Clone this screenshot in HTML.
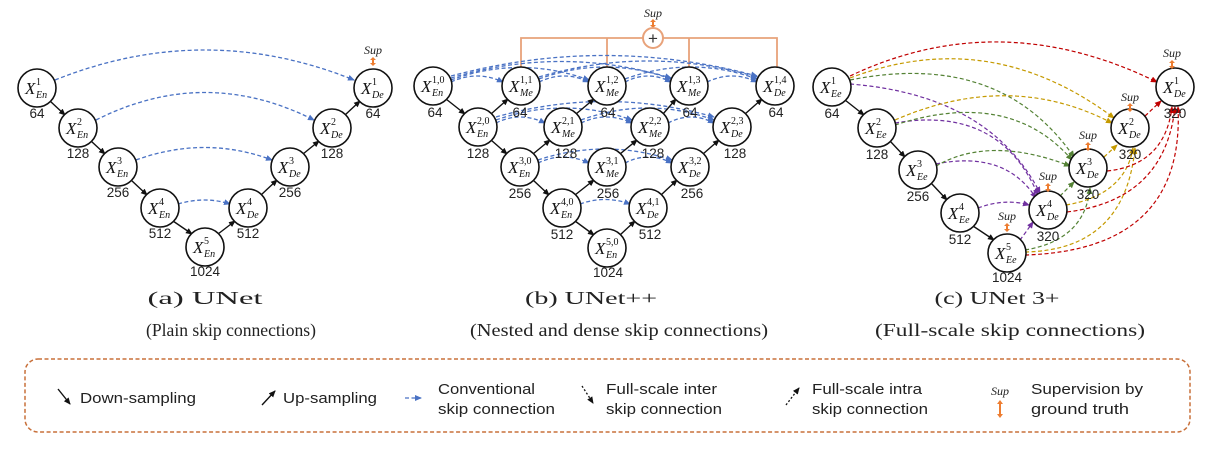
<!DOCTYPE html>
<html><head><meta charset="utf-8"><style>
html,body{margin:0;padding:0;background:#fff;}
svg{display:block;}
.n{fill:#fff;stroke:#111;stroke-width:1.6;}
.X{font-family:"Liberation Serif",serif;font-style:italic;font-size:17px;fill:#111;}
.s{font-family:"Liberation Serif",serif;font-size:10px;fill:#111;}
.b{font-family:"Liberation Serif",serif;font-style:italic;font-size:10px;fill:#111;}
.num{font-family:"Liberation Sans",sans-serif;font-size:13.5px;fill:#222;text-anchor:middle;}
.cap{font-family:"Liberation Serif",serif;font-size:18px;fill:#222;text-anchor:middle;}
.sup{font-family:"Liberation Serif",serif;font-style:italic;font-size:12px;fill:#222;text-anchor:middle;}
.ar{stroke:#111;stroke-width:1.4;fill:none;marker-end:url(#mk);}
.bl{stroke:#4a72c4;stroke-width:1.3;fill:none;stroke-dasharray:4 2.5;marker-end:url(#mb);}
.pu{stroke:#7030a0;stroke-width:1.2;fill:none;stroke-dasharray:4 2.5;marker-end:url(#mp);}
.gr{stroke:#548235;stroke-width:1.2;fill:none;stroke-dasharray:4 2.5;marker-end:url(#mg);}
.go{stroke:#c59a00;stroke-width:1.2;fill:none;stroke-dasharray:4 2.5;marker-end:url(#my);}
.rd{stroke:#c00000;stroke-width:1.2;fill:none;stroke-dasharray:4 2.5;marker-end:url(#mr);}
.or{stroke:#e8a27a;stroke-width:1.8;fill:none;}
.lg{font-family:"Liberation Sans Narrow","Liberation Sans",sans-serif;font-size:15px;fill:#222;}
</style></head><body>
<svg width="1210" height="450" viewBox="0 0 1210 450" xmlns="http://www.w3.org/2000/svg">
<defs>
<marker id="mk" markerWidth="8" markerHeight="8" refX="6" refY="3" orient="auto" markerUnits="userSpaceOnUse"><path d="M0,0 L7,3 L0,6z" fill="#111"/></marker>
<marker id="mb" markerWidth="8" markerHeight="8" refX="6" refY="3" orient="auto" markerUnits="userSpaceOnUse"><path d="M0,0 L7,3 L0,6z" fill="#4a72c4"/></marker>
<marker id="mp" markerWidth="8" markerHeight="8" refX="6" refY="3" orient="auto" markerUnits="userSpaceOnUse"><path d="M0,0 L7,3 L0,6z" fill="#7030a0"/></marker>
<marker id="mg" markerWidth="8" markerHeight="8" refX="6" refY="3" orient="auto" markerUnits="userSpaceOnUse"><path d="M0,0 L7,3 L0,6z" fill="#548235"/></marker>
<marker id="my" markerWidth="8" markerHeight="8" refX="6" refY="3" orient="auto" markerUnits="userSpaceOnUse"><path d="M0,0 L7,3 L0,6z" fill="#c59a00"/></marker>
<marker id="mr" markerWidth="8" markerHeight="8" refX="6" refY="3" orient="auto" markerUnits="userSpaceOnUse"><path d="M0,0 L7,3 L0,6z" fill="#c00000"/></marker>
</defs>

<!-- ===== (a) UNet ===== -->
<path class="bl" d="M55,80 Q205,20 354,80"/>
<path class="bl" d="M96,120 Q205,65 314,120"/>
<path class="bl" d="M136,160 Q205,135 272,160"/>
<path class="bl" d="M178,204 Q205,196 230,204"/>
<line class="ar" x1="50" y1="101" x2="65" y2="115"/>
<line class="ar" x1="91" y1="141" x2="105" y2="154"/>
<line class="ar" x1="131" y1="180" x2="147" y2="195"/>
<line class="ar" x1="173" y1="221" x2="192" y2="234"/>
<line class="ar" x1="218" y1="234" x2="235" y2="221"/>
<line class="ar" x1="261" y1="195" x2="277" y2="180"/>
<line class="ar" x1="303" y1="154" x2="319" y2="141"/>
<line class="ar" x1="345" y1="115" x2="360" y2="101"/>

<circle class="n" cx="37" cy="88" r="19"/><text class="X" x="25" y="94">X</text><text class="s" x="36" y="85">1</text><text class="b" x="36" y="98">En</text>
<circle class="n" cx="78" cy="128" r="19"/><text class="X" x="66" y="134">X</text><text class="s" x="77" y="125">2</text><text class="b" x="77" y="138">En</text>
<circle class="n" cx="118" cy="167" r="19"/><text class="X" x="106" y="173">X</text><text class="s" x="117" y="164">3</text><text class="b" x="117" y="177">En</text>
<circle class="n" cx="160" cy="208" r="19"/><text class="X" x="148" y="214">X</text><text class="s" x="159" y="205">4</text><text class="b" x="159" y="218">En</text>
<circle class="n" cx="205" cy="247" r="19"/><text class="X" x="193" y="253">X</text><text class="s" x="204" y="244">5</text><text class="b" x="204" y="257">En</text>
<circle class="n" cx="248" cy="208" r="19"/><text class="X" x="236" y="214">X</text><text class="s" x="247" y="205">4</text><text class="b" x="247" y="218">De</text>
<circle class="n" cx="290" cy="167" r="19"/><text class="X" x="278" y="173">X</text><text class="s" x="289" y="164">3</text><text class="b" x="289" y="177">De</text>
<circle class="n" cx="332" cy="128" r="19"/><text class="X" x="320" y="134">X</text><text class="s" x="331" y="125">2</text><text class="b" x="331" y="138">De</text>
<circle class="n" cx="373" cy="88" r="19"/><text class="X" x="361" y="94">X</text><text class="s" x="372" y="85">1</text><text class="b" x="372" y="98">De</text>
<text class="num" x="37" y="118">64</text><text class="num" x="78" y="158">128</text><text class="num" x="118" y="197">256</text><text class="num" x="160" y="238">512</text><text class="num" x="205" y="276">1024</text>
<text class="num" x="248" y="238">512</text><text class="num" x="290" y="197">256</text><text class="num" x="332" y="158">128</text><text class="num" x="373" y="118">64</text>
<text class="sup" x="373" y="54">Sup</text>
<path d="M373,57 l-3,3 h2 v3 h-2 l3,3 l3,-3 h-2 v-3 h2z" fill="#ed7d31"/>
<text class="cap" x="205" y="304" textLength="115" lengthAdjust="spacingAndGlyphs">(a)  UNet</text>
<text class="cap" x="231" y="336" textLength="170" lengthAdjust="spacingAndGlyphs">(Plain skip connections)</text>

<!-- ===== (b) UNet++ ===== -->
<text class="sup" x="653" y="17">Sup</text>
<path d="M653,19 l-3,3 h2 v3 h-2 l3,3 l3,-3 h-2 v-3 h2z" fill="#ed7d31"/>
<polyline class="or" points="521,67 521,38 777,38 777,69"/>
<line class="or" x1="607" y1="38" x2="607" y2="67"/>
<line class="or" x1="689" y1="38" x2="689" y2="67"/>
<circle cx="653" cy="38" r="10" fill="#fff" stroke="#e8a27a" stroke-width="2"/>
<text x="653" y="44" text-anchor="middle" font-family="Liberation Sans,sans-serif" font-size="17" fill="#333">+</text>
<path class="bl" d="M451,82 Q477,70 503,82"/>
<path class="bl" d="M451,80 Q520,55 589,80"/>
<path class="bl" d="M451,78 Q561,45 671,78"/>
<path class="bl" d="M451,76 Q604,35 757,76"/>
<path class="bl" d="M539,82 Q564,70 589,82"/>
<path class="bl" d="M539,79 Q605,55 671,79"/>
<path class="bl" d="M539,77 Q648,45 757,77"/>
<path class="bl" d="M625,82 Q648,70 671,82"/>
<path class="bl" d="M625,79 Q691,55 757,79"/>
<path class="bl" d="M707,82 Q732,70 757,82"/>
<path class="bl" d="M496,123 Q520,111 545,123"/>
<path class="bl" d="M496,120 Q564,96 632,120"/>
<path class="bl" d="M496,117 Q605,86 714,117"/>
<path class="bl" d="M581,123 Q606,111 632,123"/>
<path class="bl" d="M581,120 Q648,96 714,120"/>
<path class="bl" d="M668,123 Q691,111 714,123"/>
<path class="bl" d="M538,163 Q563,151 589,163"/>
<path class="bl" d="M538,160 Q605,138 672,160"/>
<path class="bl" d="M625,163 Q648,151 672,163"/>
<path class="bl" d="M580,204 Q605,195 630,204"/>
<line class="ar" x1="446" y1="99" x2="465" y2="114"/>
<line class="ar" x1="491" y1="140" x2="507" y2="154"/>
<line class="ar" x1="533" y1="180" x2="549" y2="195"/>
<line class="ar" x1="575" y1="221" x2="594" y2="235"/>
<line class="ar" x1="491" y1="114" x2="508" y2="99"/>
<line class="ar" x1="533" y1="154" x2="550" y2="140"/>
<line class="ar" x1="575" y1="195" x2="594" y2="180"/>
<line class="ar" x1="620" y1="235" x2="635" y2="221"/>
<line class="ar" x1="661" y1="195" x2="677" y2="180"/>
<line class="ar" x1="703" y1="154" x2="719" y2="140"/>
<line class="ar" x1="745" y1="114" x2="762" y2="99"/>
<line class="ar" x1="576" y1="114" x2="594" y2="99"/>
<line class="ar" x1="620" y1="154" x2="637" y2="140"/>
<line class="ar" x1="663" y1="114" x2="676" y2="99"/>

<circle class="n" cx="433" cy="86" r="19"/><text class="X" x="421" y="92">X</text><text class="s" x="432" y="83">1,0</text><text class="b" x="432" y="96">En</text>
<circle class="n" cx="521" cy="86" r="19"/><text class="X" x="509" y="92">X</text><text class="s" x="520" y="83">1,1</text><text class="b" x="520" y="96">Me</text>
<circle class="n" cx="607" cy="86" r="19"/><text class="X" x="595" y="92">X</text><text class="s" x="606" y="83">1,2</text><text class="b" x="606" y="96">Me</text>
<circle class="n" cx="689" cy="86" r="19"/><text class="X" x="677" y="92">X</text><text class="s" x="688" y="83">1,3</text><text class="b" x="688" y="96">Me</text>
<circle class="n" cx="775" cy="86" r="19"/><text class="X" x="763" y="92">X</text><text class="s" x="774" y="83">1,4</text><text class="b" x="774" y="96">De</text>
<circle class="n" cx="478" cy="127" r="19"/><text class="X" x="466" y="133">X</text><text class="s" x="477" y="124">2,0</text><text class="b" x="477" y="137">En</text>
<circle class="n" cx="563" cy="127" r="19"/><text class="X" x="551" y="133">X</text><text class="s" x="562" y="124">2,1</text><text class="b" x="562" y="137">Me</text>
<circle class="n" cx="650" cy="127" r="19"/><text class="X" x="638" y="133">X</text><text class="s" x="649" y="124">2,2</text><text class="b" x="649" y="137">Me</text>
<circle class="n" cx="732" cy="127" r="19"/><text class="X" x="720" y="133">X</text><text class="s" x="731" y="124">2,3</text><text class="b" x="731" y="137">De</text>
<circle class="n" cx="520" cy="167" r="19"/><text class="X" x="508" y="173">X</text><text class="s" x="519" y="164">3,0</text><text class="b" x="519" y="177">En</text>
<circle class="n" cx="607" cy="167" r="19"/><text class="X" x="595" y="173">X</text><text class="s" x="606" y="164">3,1</text><text class="b" x="606" y="177">Me</text>
<circle class="n" cx="690" cy="167" r="19"/><text class="X" x="678" y="173">X</text><text class="s" x="689" y="164">3,2</text><text class="b" x="689" y="177">De</text>
<circle class="n" cx="562" cy="208" r="19"/><text class="X" x="550" y="214">X</text><text class="s" x="561" y="205">4,0</text><text class="b" x="561" y="218">En</text>
<circle class="n" cx="648" cy="208" r="19"/><text class="X" x="636" y="214">X</text><text class="s" x="647" y="205">4,1</text><text class="b" x="647" y="218">De</text>
<circle class="n" cx="607" cy="248" r="19"/><text class="X" x="595" y="254">X</text><text class="s" x="606" y="245">5,0</text><text class="b" x="606" y="258">En</text>
<text class="num" x="435" y="117">64</text><text class="num" x="520" y="117">64</text><text class="num" x="608" y="117">64</text><text class="num" x="690" y="117">64</text><text class="num" x="776" y="117">64</text>
<text class="num" x="478" y="158">128</text><text class="num" x="566" y="158">128</text><text class="num" x="653" y="158">128</text><text class="num" x="735" y="158">128</text>
<text class="num" x="520" y="198">256</text><text class="num" x="608" y="198">256</text><text class="num" x="692" y="198">256</text>
<text class="num" x="562" y="239">512</text><text class="num" x="650" y="239">512</text>
<text class="num" x="608" y="277">1024</text>
<text class="cap" x="591" y="304" textLength="132" lengthAdjust="spacingAndGlyphs">(b)  UNet++</text>
<text class="cap" x="619" y="336" textLength="298" lengthAdjust="spacingAndGlyphs">(Nested and dense skip connections)</text>

<!-- ===== (c) UNet 3+ ===== -->
<path class="pu" d="M850,84 Q990,95 1040,193"/>
<path class="pu" d="M895,123 Q1000,105 1038,195"/>
<path class="pu" d="M936,164 Q1005,150 1036,198"/>
<path class="pu" d="M978,208 Q1005,198 1029,205"/>
<path class="pu" d="M1020,240 Q1026,232 1033,222"/>
<path class="gr" d="M850,80 Q1000,50 1074,157"/>
<path class="gr" d="M895,125 Q1010,88 1072,160"/>
<path class="gr" d="M936,166 Q990,135 1070,166"/>
<line class="gr" x1="1060" y1="196" x2="1074" y2="182"/>
<path class="gr" d="M1025,250 Q1085,240 1090,188"/>
<path class="go" d="M850,78 Q990,25 1114,118"/>
<path class="go" d="M895,120 Q1010,70 1112,123"/>
<line class="go" x1="1104" y1="157" x2="1117" y2="145"/>
<path class="go" d="M1066,205 Q1125,195 1133,148"/>
<path class="go" d="M1025,252 Q1125,250 1135,148"/>
<path class="rd" d="M850,76 Q1000,5 1157,82"/>
<line class="rd" x1="1145" y1="116" x2="1161" y2="101"/>
<path class="rd" d="M1107,171 Q1165,165 1172,107"/>
<path class="rd" d="M1067,212 Q1165,200 1175,107"/>
<path class="rd" d="M1025,255 Q1185,250 1178,107"/>
<line class="ar" x1="845" y1="100" x2="864" y2="115"/>
<line class="ar" x1="890" y1="141" x2="905" y2="157"/>
<line class="ar" x1="931" y1="183" x2="947" y2="200"/>
<line class="ar" x1="973" y1="226" x2="994" y2="240"/>

<circle class="n" cx="832" cy="87" r="19"/><text class="X" x="820" y="93">X</text><text class="s" x="831" y="84">1</text><text class="b" x="831" y="97">Ee</text>
<circle class="n" cx="877" cy="128" r="19"/><text class="X" x="865" y="134">X</text><text class="s" x="876" y="125">2</text><text class="b" x="876" y="138">Ee</text>
<circle class="n" cx="918" cy="170" r="19"/><text class="X" x="906" y="176">X</text><text class="s" x="917" y="167">3</text><text class="b" x="917" y="180">Ee</text>
<circle class="n" cx="960" cy="213" r="19"/><text class="X" x="948" y="219">X</text><text class="s" x="959" y="210">4</text><text class="b" x="959" y="223">Ee</text>
<circle class="n" cx="1007" cy="253" r="19"/><text class="X" x="995" y="259">X</text><text class="s" x="1006" y="250">5</text><text class="b" x="1006" y="263">Ee</text>
<circle class="n" cx="1048" cy="210" r="19"/><text class="X" x="1036" y="216">X</text><text class="s" x="1047" y="207">4</text><text class="b" x="1047" y="220">De</text>
<circle class="n" cx="1088" cy="168" r="19"/><text class="X" x="1076" y="174">X</text><text class="s" x="1087" y="165">3</text><text class="b" x="1087" y="178">De</text>
<circle class="n" cx="1130" cy="128" r="19"/><text class="X" x="1118" y="134">X</text><text class="s" x="1129" y="125">2</text><text class="b" x="1129" y="138">De</text>
<circle class="n" cx="1175" cy="87" r="19"/><text class="X" x="1163" y="93">X</text><text class="s" x="1174" y="84">1</text><text class="b" x="1174" y="97">De</text>
<text class="num" x="832" y="118">64</text><text class="num" x="877" y="159">128</text><text class="num" x="918" y="201">256</text><text class="num" x="960" y="244">512</text><text class="num" x="1007" y="282">1024</text>
<text class="num" x="1048" y="241">320</text><text class="num" x="1088" y="199">320</text><text class="num" x="1130" y="159">320</text><text class="num" x="1175" y="118">320</text>
<text class="sup" x="1172" y="57">Sup</text><path d="M1172,60 l-3,3 h2 v3 h-2 l3,3 l3,-3 h-2 v-3 h2z" fill="#ed7d31"/>
<text class="sup" x="1130" y="101">Sup</text><path d="M1130,103 l-3,3 h2 v3 h-2 l3,3 l3,-3 h-2 v-3 h2z" fill="#ed7d31"/>
<text class="sup" x="1088" y="139">Sup</text><path d="M1088,142 l-3,3 h2 v3 h-2 l3,3 l3,-3 h-2 v-3 h2z" fill="#ed7d31"/>
<text class="sup" x="1048" y="180">Sup</text><path d="M1048,183 l-3,3 h2 v3 h-2 l3,3 l3,-3 h-2 v-3 h2z" fill="#ed7d31"/>
<text class="sup" x="1007" y="220">Sup</text><path d="M1007,223 l-3,3 h2 v3 h-2 l3,3 l3,-3 h-2 v-3 h2z" fill="#ed7d31"/>
<text class="cap" x="997" y="304" textLength="125" lengthAdjust="spacingAndGlyphs">(c)  UNet 3+</text>
<text class="cap" x="1010" y="336" textLength="270" lengthAdjust="spacingAndGlyphs">(Full-scale skip connections)</text>

<!-- ===== Legend ===== -->
<rect x="25" y="359" width="1165" height="73" rx="13" fill="none" stroke="#c8703a" stroke-width="1.5" stroke-dasharray="4 2.5"/>
<line class="ar" x1="58" y1="389" x2="70" y2="404"/>
<text class="lg" x="80" y="403" textLength="116" lengthAdjust="spacingAndGlyphs">Down-sampling</text>
<line class="ar" x1="262" y1="405" x2="275" y2="391"/>
<text class="lg" x="283" y="403" textLength="94" lengthAdjust="spacingAndGlyphs">Up-sampling</text>
<line class="bl" x1="405" y1="398" x2="421" y2="398" stroke-dasharray="2 1.5"/>
<text class="lg" x="438" y="394" textLength="97" lengthAdjust="spacingAndGlyphs">Conventional</text>
<text class="lg" x="438" y="414" textLength="117" lengthAdjust="spacingAndGlyphs">skip connection</text>
<line x1="582" y1="386" x2="593" y2="403" stroke="#111" stroke-width="1.3" stroke-dasharray="2 2" marker-end="url(#mk)"/>
<text class="lg" x="606" y="394" textLength="111" lengthAdjust="spacingAndGlyphs">Full-scale inter</text>
<text class="lg" x="606" y="414" textLength="116" lengthAdjust="spacingAndGlyphs">skip connection</text>
<line x1="786" y1="405" x2="799" y2="388" stroke="#111" stroke-width="1.3" stroke-dasharray="2 2" marker-end="url(#mk)"/>
<text class="lg" x="812" y="394" textLength="110" lengthAdjust="spacingAndGlyphs">Full-scale intra</text>
<text class="lg" x="812" y="414" textLength="116" lengthAdjust="spacingAndGlyphs">skip connection</text>
<text class="sup" x="1000" y="395" font-size="15">Sup</text>
<path d="M1000,400 l-3,4 h2 v10 h-2 l3,4 l3,-4 h-2 v-10 h2z" fill="#ed7d31"/>
<text class="lg" x="1031" y="394" textLength="112" lengthAdjust="spacingAndGlyphs">Supervision by</text>
<text class="lg" x="1031" y="414" textLength="98" lengthAdjust="spacingAndGlyphs">ground truth</text>
</svg>
</body></html>
